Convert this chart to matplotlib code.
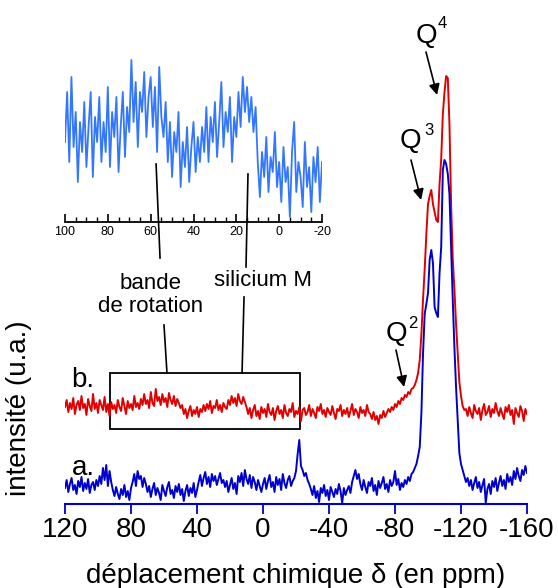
import numpy as np
import matplotlib
matplotlib.use("Agg")
import matplotlib.pyplot as plt
from matplotlib.patches import Rectangle

plt.rcParams['font.family'] = ['Liberation Sans', 'DejaVu Sans']

# Spectre b. (rouge), de 120 a -160 ppm, pas de 1 ppm
red = [
    97, 104, 92, 101, 95, 106, 90, 99, 103, 94, 108, 96, 100, 89, 105, 98, 93, 110, 95, 101, 91, 104, 99, 94, 107, 92, 100,
    88, 102, 95, 99, 91, 104, 97, 93, 106, 98, 90, 103, 96, 100, 94, 108, 97, 101,
    95, 105, 99, 110, 100, 104, 96, 112, 101, 98, 115, 103, 107, 99, 110, 102, 106, 97, 111, 104, 100, 108, 98, 105, 101, 96,
    99, 90, 95, 86, 93, 98, 88, 94, 90, 97, 87, 95, 92, 99,
    93, 100, 95, 103, 91, 98, 96, 104, 94, 99, 92, 101, 97, 95,
    104, 99, 108, 101, 106, 98, 110, 103, 100, 107, 102, 97,
    90, 96, 86, 94, 99, 88, 93, 85, 97, 91, 95, 87, 100, 92, 89, 96, 84, 93, 98, 90,
    94, 86, 99, 91, 88, 95, 92, 101, 87, 93, 90, 97, 83, 94, 96, 89, 92, 99, 88, 95,
    91, 86, 97, 93, 100, 90, 94, 87, 96, 92, 89, 98, 91, 85, 95, 93, 99, 88, 94, 90,
    96, 87, 93, 100, 89, 95, 92, 86, 97, 91, 94, 88, 99, 92,
    90, 85, 92, 84, 88, 80, 89, 86, 93, 87, 91, 95,
    92, 97, 94, 100, 97, 103, 100, 106, 104, 109, 107, 112, 110, 115,
    116, 119, 124, 131, 144, 170, 205, 235, 270, 300, 308, 314, 300, 292, 284, 282,
    320, 345, 390, 412, 428, 426, 380, 300, 245, 215, 180, 150, 122, 108, 98, 94,
    95, 88, 97, 91, 86, 99, 93, 90, 96, 84, 94, 100, 89, 92, 98, 87, 95, 91, 101, 93,
    88, 96, 90, 85, 97, 92, 99, 89, 94, 80, 96, 91, 87, 98, 93, 83, 95, 90,
]

# Spectre a. (bleu)
blue = [
    16, 24, 12, 20, 26, 14, 19, 10, 23, 17, 27, 13, 21, 15, 25, 11, 19, 22, 14, 24, 18,
    28, 20, 36, 24, 39, 18, 33, 22,
    14, 8, 17, 10, 5, 15, 9, 19, 7, 13, 4, 16,
    22, 30, 18, 33, 25, 28, 17, 26, 20,
    12, 18, 7, 15, 21, 9, 16, 11, 4, 19, 13, 8, 17, 22, 10, 14, 6, 18, 12, 20,
    9, 15, 3, 13, 19, 8, 16, 11, 21, 7, 14,
    22, 29, 18, 26, 32, 20, 27, 17, 30, 23, 28, 19, 25, 31, 21, 24,
    17, 23, 12, 19, 26, 15, 21, 10, 28, 22, 31, 18, 34, 25, 20, 29, 16, 27, 22, 14, 24, 18, 12,
    20, 26, 15, 23, 29, 17, 22, 12, 27, 19, 25, 14, 30, 21, 16, 24, 28, 18, 23, 26, 33,
    50, 64, 38,
    34, 28, 31, 24, 20,
    15, 9, 18, 6, 13, 2, 16, 11, 19, 8, 14, 4, 17, 12, 7, 15, 10, 20, 13, 1, 16, 9, 14, 18, 11, 22,
    28, 34, 25, 30,
    20, 14, 24, 17, 11, 22, 18, 26, 13, 19, 9, 23, 16, 21, 27, 15, 20, 12, 24, 18,
    22, 33, 19, 25, 14, 21, 17, 24, 20, 27, 23, 30,
    32, 36, 40, 48, 57, 91, 151, 190, 200, 211, 244, 254, 241, 197, 191, 187, 231,
    257, 334, 344, 340, 330, 310, 257, 204, 157, 117, 84, 51, 40, 34, 28, 22, 26,
    18, 24, 14, 21, 27, 16, 22, 12, 19, 25, 1, 15, 20, 10, 23, 17, 26, 13, 21, 28,
    18, 24, 15, 30, 22, 27, 19, 33, 25, 36, 28, 23, 34, 29, 38, 31,
]

# Agrandissement (100 a -20 ppm) du spectre b.
zoom = [
    80, 130, 60, 145, 75, 110, 40, 100, 70,
    120, 55, 95, 130, 45, 105, 80, 125, 60,
    100, 70, 135, 55, 110, 85, 125, 50, 95, 130, 65, 115,
    90, 162, 100, 140, 75, 130, 110, 150, 85, 125, 145, 95, 135, 70, 155, 105,
    85, 120, 60, 100, 45, 90, 70, 110, 35, 80, 55, 95, 40, 75, 100, 50, 85, 60,
    95, 70, 115, 60, 105, 80, 120, 65, 100, 140, 75, 110, 90, 125, 60, 105, 85, 130, 95, 145, 110, 135, 100, 125, 90, 115,
    60, 25, 70, 45, 85, 30, 65, 50, 90, 35, 60, 20, 75, 40, 55, 5, 70, 100, 30, 60, 45, 15, 80, 35, 55, 10, 65, 40, 75, 20, 60,
]

ppm = np.linspace(120, -160, len(red))
ppm_b = np.linspace(120, -160, len(blue))
ppm_z = np.linspace(100, -20, len(zoom))

main_ticks = [120, 80, 40, 0, -40, -80, -120, -160]
zoom_ticks = [100, 80, 60, 40, 20, 0, -20]

RED = '#e00000'
BLUE = '#0000cc'
LIGHT = '#3377ff'

W, H = 558, 588
fig = plt.figure(figsize=(W / 100, H / 100), dpi=100)

# axes principal
ax = fig.add_axes([65 / W, (H - 504) / H, 462 / W, 504 / H])
ax.plot(ppm, red, color=RED, lw=1.4)
ax.plot(ppm_b, blue, color=BLUE, lw=1.4)
ax.set_xlim(120, -160)
ax.set_ylim(0, 504)
for s in ['left', 'top', 'right']:
    ax.spines[s].set_visible(False)
ax.spines['bottom'].set_color(BLUE)
ax.spines['bottom'].set_linewidth(1.5)
ax.set_yticks([])
ax.set_xticks(main_ticks)
ax.set_xticklabels([str(t) for t in main_ticks])
ax.tick_params(axis='x', direction='out', length=7.5, width=1.3, color=BLUE,
               labelsize=20, pad=2)
ax.set_xlabel('déplacement chimique δ (en ppm)', fontsize=20, labelpad=14)
ax.set_ylabel('intensité (u.a.)', fontsize=20)
ax.yaxis.set_label_coords(-0.072, 0.19)

ax.text(116, 117, 'b.', fontsize=20, va='baseline')
ax.text(116, 29, 'a.', fontsize=20, va='baseline')

# cadre autour de la zone agrandie
ax.add_patch(Rectangle((92.7, 75), -115.1, 56, fill=False, ec='black', lw=1.3))

# traits de rappel
ax.plot([64.8, 62.4], [340, 246], color='black', lw=1.2, clip_on=False)
ax.plot([60.0, 58.2], [179, 131], color='black', lw=1.2, clip_on=False)
ax.plot([9.1, 10.3], [330, 237], color='black', lw=1.2, clip_on=False)
ax.plot([11.5, 12.7], [207, 131], color='black', lw=1.2, clip_on=False)
ax.text(67.9, 209, 'bande\nde rotation', fontsize=16, ha='center', va='center',
        multialignment='center', linespacing=1.1)
ax.text(0, 224, 'silicium M', fontsize=16, ha='center', va='center')

# Q2, Q3, Q4
labels = [('4', -98.8, 461, -105.8, 476, (-98.8, 452), (-105.5, 409)),
          ('3', -89.4, 356, -97.6, 369, (-89.7, 344), (-95.8, 304)),
          ('2', -80.6, 163, -87.9, 176, (-80.6, 154), (-85.5, 117))]
for n, qx, qy, sx, sy, tail, tip in labels:
    ax.text(qx, qy, 'Q', fontsize=20, ha='center', va='baseline')
    ax.text(sx, sy, n, fontsize=12, ha='left', va='baseline')
    ax.annotate('', xy=tip, xytext=tail,
                arrowprops=dict(arrowstyle='-|>', color='black', lw=1.2,
                                mutation_scale=16, shrinkA=0, shrinkB=0))

# encart
ins = fig.add_axes([65 / W, (H - 222) / H, 257 / W, 167 / H])
ins.plot(ppm_z, zoom, color=LIGHT, lw=1.3)
ins.set_xlim(100, -20)
ins.set_ylim(0, 167)
for s in ['left', 'top', 'right']:
    ins.spines[s].set_visible(False)
ins.spines['bottom'].set_linewidth(1.3)
ins.set_yticks([])
ins.set_xticks(zoom_ticks)
ins.set_xticklabels([str(t) for t in zoom_ticks])
ins.set_xticks(np.arange(100, -21, -5), minor=True)
ins.tick_params(axis='x', which='major', direction='in', length=6, width=1.2,
                labelsize=9, pad=3)
ins.tick_params(axis='x', which='minor', direction='in', length=3.5, width=1.0)
ins.patch.set_alpha(0)

fig.savefig('out.png', dpi=100)
